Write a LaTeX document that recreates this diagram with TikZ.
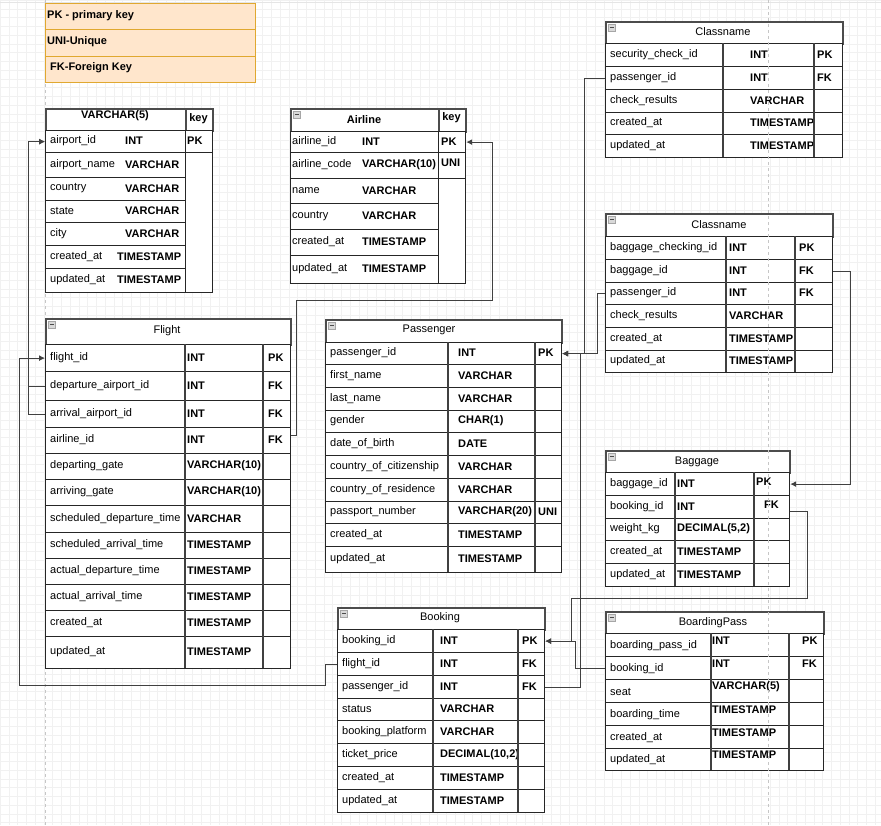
\documentclass[tikz,border=0pt]{standalone}
\usepackage{fontspec}
\setmainfont{Liberation Sans}
\usetikzlibrary{positioning, calc, arrows.meta}
\definecolor{legfill}{HTML}{FFE6CC}
\definecolor{legline}{HTML}{E0A830}

\begin{document}
\begin{tikzpicture}[x=1pt, y=-1pt, >={Latex[length=6pt,width=6pt]},
    font=\fontsize{11}{13}\selectfont,
    rowbox/.style={draw=black!85, line width=1.2pt, fill=white, inner sep=0pt, anchor=north west},
    hdrbox/.style={rowbox, draw=black!70, line width=1.5pt},
    legbox/.style={rowbox, draw=legline, fill=legfill, line width=1.3pt},
    txt/.style={anchor=west, inner sep=0pt},
    boldtxt/.style={txt, font=\fontsize{11}{13}\selectfont\bfseries},
    ttl/.style={inner sep=0pt},
    divline/.style={draw=black!75, line width=1.2pt},
    conn/.style={draw=black!75, line width=1pt, ->},
    minbox/.style={draw=gray!70, fill=gray!30, line width=0.6pt, minimum size=7pt, inner sep=0pt, anchor=north west,
        path picture={\draw[black!70, line width=1pt] ([xshift=1.5pt]path picture bounding box.west) -- ([xshift=-1.5pt]path picture bounding box.east);}}]

    % Canvas and grid
    \useasboundingbox (0,0) rectangle (881,825);
    \fill[white] (0,0) rectangle (881,825);
    \draw[gray!11, line width=0.5pt, step=8.75pt] (0,0) grid (881,825);
    \draw[gray!20, line width=1pt] (0,2) -- (881,2);
    \draw[gray!45, dashed, line width=0.8pt] (45,0) -- (45,825);

    % Legend
    \node[legbox, minimum width=210pt, minimum height=26pt] (leg1) at (45,3) {};
    \node[legbox, minimum width=210pt, minimum height=27pt] (leg2) at (45,29) {};
    \node[legbox, minimum width=210pt, minimum height=26pt] (leg3) at (45,56) {};
    \node[boldtxt] (leg1-t) at (47,16) {PK - primary key};
    \node[boldtxt] (leg2-t) at (47,42) {UNI-Unique};
    \node[boldtxt] (leg3-t) at (50,68) {FK-Foreign Key};

    % Airport
    \node[hdrbox, minimum width=140pt, minimum height=22pt] (ap) at (45,108) {};
    \node[hdrbox, minimum width=27pt, minimum height=22pt] (ap-key) at (185,108) {};
    \node[ttl, font=\fontsize{11}{13}\selectfont\bfseries] (ap-title) at (115,116) {VARCHAR(5)};
    \node[ttl, font=\fontsize{11}{13}\selectfont\bfseries] (ap-keyt) at (198.5,119) {key};
    \foreach \nm/\ty/\tx/\yt/\yb [count=\i] in {airport\_id/INT/125/130/152, airport\_name/VARCHAR/125/152/177,
        country/VARCHAR/125/177/200, state/VARCHAR/125/200/222, city/VARCHAR/125/222/245,
        created\_at/TIMESTAMP/117/245/268, updated\_at/TIMESTAMP/117/268/292} {
        \node[rowbox, minimum width=140pt, minimum height={\yb pt-\yt pt}] (ap\i) at (45,\yt) {};
        \node[txt] (ap\i-n) at (50,{(\yt+\yb)/2}) {\nm};
        \node[boldtxt] (ap\i-t) at (\tx,{(\yt+\yb)/2}) {\ty};
    }
    \node[rowbox, minimum width=27pt, minimum height=22pt] (ap1-k) at (185,130) {};
    \node[rowbox, minimum width=27pt, minimum height=140pt] (ap-keyrest) at (185,152) {};
    \node[boldtxt] (ap1-kt) at (187,141) {PK};

    % Airline
    \node[hdrbox, minimum width=148pt, minimum height=23pt] (al) at (290,108) {};
    \node[hdrbox, minimum width=27pt, minimum height=23pt] (al-key) at (438,108) {};
    \node[minbox] (al-min) at (293,111) {};
    \node[ttl, font=\fontsize{11}{13}\selectfont\bfseries] (al-title) at (364,120) {Airline};
    \node[ttl, font=\fontsize{11}{13}\selectfont\bfseries] (al-keyt) at (451.5,118) {key};
    \foreach \nm/\ty/\yt/\yb [count=\i] in {airline\_id/INT/131/152, airline\_code/VARCHAR(10)/152/178,
        name/VARCHAR/178/203, country/VARCHAR/203/229, created\_at/TIMESTAMP/229/255, updated\_at/TIMESTAMP/255/283} {
        \node[rowbox, minimum width=148pt, minimum height={\yb pt-\yt pt}] (al\i) at (290,\yt) {};
        \node[txt] (al\i-n) at (292,{(\yt+\yb)/2}) {\nm};
        \node[boldtxt] (al\i-t) at (362,{(\yt+\yb)/2}) {\ty};
    }
    \node[rowbox, minimum width=27pt, minimum height=21pt] (al1-k) at (438,131) {};
    \node[rowbox, minimum width=27pt, minimum height=26pt] (al2-k) at (438,152) {};
    \node[rowbox, minimum width=27pt, minimum height=105pt] (al-keyrest) at (438,178) {};
    \node[boldtxt] (al1-kt) at (441,141.5) {PK};
    \node[boldtxt] (al2-kt) at (441,163) {UNI};

    % Security check (Classname)
    \node[hdrbox, minimum width=237pt, minimum height=22pt] (sc) at (605,21) {};
    \node[minbox] (sc-min) at (608,24) {};
    \node[ttl] (sc-title) at (723,32) {Classname};
    \foreach \nm/\ty/\ky/\yt/\yb [count=\i] in {security\_check\_id/INT/PK/43/66, passenger\_id/INT/FK/66/89,
        check\_results/VARCHAR//89/112, created\_at/TIMESTAMP//112/134, updated\_at/TIMESTAMP//134/157} {
        \node[rowbox, minimum width=237pt, minimum height={\yb pt-\yt pt}] (sc\i) at (605,\yt) {};
        \node[txt] (sc\i-n) at (610,{(\yt+\yb)/2}) {\nm};
        \node[boldtxt] (sc\i-t) at (750,{(\yt+\yb)/2}) {\ty};
        \node[boldtxt] (sc\i-k) at (817,{(\yt+\yb)/2}) {\ky};
    }
    \draw[divline] (723,43) -- (723,157);
    \draw[divline] (814,43) -- (814,157);

    % Baggage check (Classname)
    \node[hdrbox, minimum width=227pt, minimum height=23pt] (bc) at (605,213) {};
    \node[minbox] (bc-min) at (608,216) {};
    \node[ttl] (bc-title) at (719,225) {Classname};
    \foreach \nm/\ty/\ky/\yt/\yb [count=\i] in {baggage\_checking\_id/INT/PK/236/259, baggage\_id/INT/FK/259/282,
        passenger\_id/INT/FK/282/304, check\_results/VARCHAR//304/327, created\_at/TIMESTAMP//327/350,
        updated\_at/TIMESTAMP//350/372} {
        \node[rowbox, minimum width=227pt, minimum height={\yb pt-\yt pt}] (bc\i) at (605,\yt) {};
        \node[txt] (bc\i-n) at (610,{(\yt+\yb)/2}) {\nm};
        \node[boldtxt] (bc\i-t) at (729,{(\yt+\yb)/2}) {\ty};
        \node[boldtxt] (bc\i-k) at (799,{(\yt+\yb)/2}) {\ky};
    }
    \draw[divline] (726,236) -- (726,372);
    \draw[divline] (795,236) -- (795,372);

    % Flight
    \node[hdrbox, minimum width=245pt, minimum height=26pt] (fl) at (45,318) {};
    \node[minbox] (fl-min) at (48,321) {};
    \node[ttl] (fl-title) at (167,331) {Flight};
    \foreach \nm/\ty/\ky/\yt/\yb [count=\i] in {flight\_id/INT/PK/344/371, departure\_airport\_id/INT/FK/371/400,
        arrival\_airport\_id/INT/FK/400/427, airline\_id/INT/FK/427/453, departing\_gate/VARCHAR(10)//453/479,
        arriving\_gate/VARCHAR(10)//479/505, scheduled\_departure\_time/VARCHAR//505/532,
        scheduled\_arrival\_time/TIMESTAMP//532/558, actual\_departure\_time/TIMESTAMP//558/584,
        actual\_arrival\_time/TIMESTAMP//584/610, created\_at/TIMESTAMP//610/636, updated\_at/TIMESTAMP//636/668} {
        \node[rowbox, minimum width=245pt, minimum height={\yb pt-\yt pt}] (fl\i) at (45,\yt) {};
        \node[txt] (fl\i-n) at (50,{(\yt+\yb)/2}) {\nm};
        \node[boldtxt] (fl\i-t) at (187,{(\yt+\yb)/2}) {\ty};
        \node[boldtxt] (fl\i-k) at (268,{(\yt+\yb)/2}) {\ky};
    }
    \draw[divline] (185,344) -- (185,668);
    \draw[divline] (263,344) -- (263,668);

    % Passenger
    \node[hdrbox, minimum width=236pt, minimum height=23pt] (ps) at (325,319) {};
    \node[minbox] (ps-min) at (328,322) {};
    \node[ttl] (ps-title) at (429,330) {Passenger};
    \foreach \nm/\ty/\ky/\yt/\yb [count=\i] in {passenger\_id/INT/PK/342/364, first\_name/VARCHAR//364/387,
        last\_name/VARCHAR//387/410, gender/CHAR(1)//410/432, date\_of\_birth/DATE//432/455,
        country\_of\_citizenship/VARCHAR//455/478, country\_of\_residence/VARCHAR//478/501,
        passport\_number/VARCHAR(20)/UNI/501/523, created\_at/TIMESTAMP//523/546, updated\_at/TIMESTAMP//546/572} {
        \node[rowbox, minimum width=236pt, minimum height={\yb pt-\yt pt}] (ps\i) at (325,\yt) {};
        \node[txt] (ps\i-n) at (330,{(\yt+\yb)/2}) {\nm};
        \node[boldtxt] (ps\i-t) at (458,{(\yt+\yb)/2}) {\ty};
        \node[boldtxt] (ps\i-k) at (538,{(\yt+\yb)/2}) {\ky};
    }
    \draw[divline] (448,342) -- (448,572);
    \draw[divline] (535,342) -- (535,572);

    % Baggage
    \node[hdrbox, minimum width=184pt, minimum height=22pt] (bg) at (605,450) {};
    \node[minbox] (bg-min) at (608,453) {};
    \node[ttl] (bg-title) at (697,462) {Baggage};
    \foreach \nm/\ty/\ky/\kx/\yt/\yb [count=\i] in {baggage\_id/INT/PK/756/472/495, booking\_id/INT/FK/764/495/518,
        weight\_kg/{DECIMAL(5,2)}//756/518/540, created\_at/TIMESTAMP//756/540/563, updated\_at/TIMESTAMP//756/563/586} {
        \node[rowbox, minimum width=184pt, minimum height={\yb pt-\yt pt}] (bg\i) at (605,\yt) {};
        \node[txt] (bg\i-n) at (610,{(\yt+\yb)/2}) {\nm};
        \node[boldtxt] (bg\i-t) at (677,{(\yt+\yb)/2}) {\ty};
        \node[boldtxt] (bg\i-k) at (\kx,{(\yt+\yb)/2-2}) {\ky};
    }
    \draw[divline] (675,472) -- (675,586);
    \draw[divline] (754,472) -- (754,586);

    % Booking
    \node[hdrbox, minimum width=207pt, minimum height=22pt] (bk) at (337,607) {};
    \node[minbox] (bk-min) at (340,610) {};
    \node[ttl] (bk-title) at (440,618) {Booking};
    \foreach \nm/\ty/\ky/\yt/\yb [count=\i] in {booking\_id/INT/PK/629/652, flight\_id/INT/FK/652/675,
        passenger\_id/INT/FK/675/698, status/VARCHAR//698/720, booking\_platform/VARCHAR//720/743,
        ticket\_price/{DECIMAL(10,2)}//743/766, created\_at/TIMESTAMP//766/789, updated\_at/TIMESTAMP//789/812} {
        \node[rowbox, minimum width=207pt, minimum height={\yb pt-\yt pt}] (bk\i) at (337,\yt) {};
        \node[txt] (bk\i-n) at (342,{(\yt+\yb)/2}) {\nm};
        \node[boldtxt] (bk\i-t) at (440,{(\yt+\yb)/2}) {\ty};
        \node[boldtxt] (bk\i-k) at (522,{(\yt+\yb)/2}) {\ky};
    }
    \draw[divline] (433,629) -- (433,812);
    \draw[divline] (518,629) -- (518,812);

    % BoardingPass
    \node[hdrbox, minimum width=218pt, minimum height=22pt] (bp) at (605,611) {};
    \node[minbox] (bp-min) at (608,614) {};
    \node[ttl] (bp-title) at (713,623) {BoardingPass};
    \foreach \nm/\ty/\ky/\yt/\yb [count=\i] in {boarding\_pass\_id/INT/PK/633/656, booking\_id/INT/FK/656/679,
        seat/VARCHAR(5)//679/702, boarding\_time/TIMESTAMP//702/725, created\_at/TIMESTAMP//725/748,
        updated\_at/TIMESTAMP//748/770} {
        \node[rowbox, minimum width=218pt, minimum height={\yb pt-\yt pt}] (bp\i) at (605,\yt) {};
        \node[txt] (bp\i-n) at (610,{(\yt+\yb)/2+1}) {\nm};
        \node[boldtxt] (bp\i-t) at (712,{(\yt+\yb)/2-4}) {\ty};
        \node[boldtxt] (bp\i-k) at (802,{(\yt+\yb)/2-4}) {\ky};
    }
    \draw[divline] (711,633) -- (711,770);
    \draw[divline] (789,633) -- (789,770);

    % Page break
    \draw[gray!45, dashed, line width=0.8pt] (768,0) -- (768,825);

    % Bend points
    \coordinate (c-bkfl) at (19,685);
    \coordinate (c-flal) at (492,300);
    \coordinate (c-bgbk) at (571,598);

    % Relations
    \draw[conn] (fl2.west) -- ++(-17,0) |- (ap1.west);
    \draw[conn] (fl3.west) -- ++(-17,0) |- (ap1.west);
    \draw[conn] (bk2.west) -- ++(-12,0) |- (c-bkfl) |- (fl1.west);
    \draw[conn] ([yshift=5pt]fl4.east) -- ++(5,0) |- (c-flal) |- (al1-k.east);
    \draw[conn] (sc2.west) -- ++(-21,0) |- (ps1.east);
    \draw[conn] (bc3.west) -- ++(-8,0) |- (ps1.east);
    \draw[conn] (bk3.east) -- ++(35,0) |- (ps1.east);
    \draw[conn] (bc2.east) -- ++(17,0) |- (bg1.east);
    \draw[conn] ([yshift=-4pt]bg2.east) -- ++(17,0) |- (c-bgbk) |- (bk1.east);
    \draw[conn] (bp2.west) -- ++(-30,0) |- (bk1.east);

\end{tikzpicture}
\end{document}
